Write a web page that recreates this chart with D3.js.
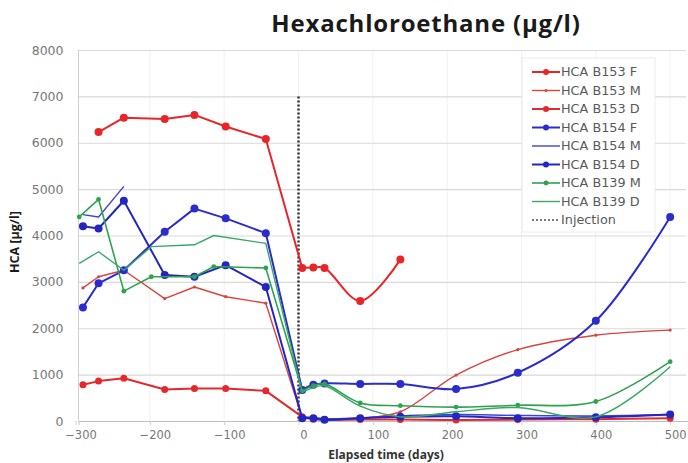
<!DOCTYPE html>
<html>
<head>
<meta charset="utf-8">
<script src="https://cdn.jsdelivr.net/npm/d3@7"></script>
<style>
  body { margin: 0; background: #fff; }
  svg { display: block; }
</style>
</head>
<body>
<svg id="chart" width="688" height="463"></svg>
<script>
// sample days (elapsed time, days relative to injection)
const days = [-295, -290, -269, -235, -198, -180, -140, -114, -98, -44, 5, 20, 35, 83, 137, 212, 295, 400, 500];

// HCA concentrations (µg/l); null = not sampled (line runs on), NaN = break in the line
const b153F = [null, null, 6230, 6540, null, 6510, 6600, null, 6350, 6080, 3300, 3310, 3300, 2590, 3480, null, null, null, null];
const b153M = [null, 2870, 3110, 3250, null, 2640, 2890, null, 2680, 2540, 60, 50, 40, 60, 200, 990, 1540, 1850, 1960];
const b153D = [null, 780, 860, 920, null, 680, 700, null, 700, 650, 90, 40, 30, 30, 30, 20, 30, 40, 60];
const b154F = [null, 2450, 2970, 3250, null, 4080, 4580, null, 4370, 4050, 670, 780, 810, 800, 800, 690, 1040, 2160, 4400];
const b154M = [null, 4450, 4400, 5060, null, NaN, null, null, null, null, 90, 80, 50, 70, 110, 140, 120, 110, 140];
const b154D = [null, 4200, 4150, 4750, null, 3150, 3110, null, 3360, 2890, 60, 60, 25, 60, 90, 100, 60, 80, 140];
const b139M = [4400, null, 4780, 2800, 3110, null, 3110, 3330, null, 3300, 650, 760, 800, 390, 330, 300, 340, 420, 1280];
const b139D = [3400, null, 3650, 3250, 3760, null, 3800, 4000, null, 3830, 620, 720, 760, 320, 90, 200, 290, 90, 1170];

const injectionDay = 0;
const injectionRange = [0, 7000];

const xTicks = [-300, -200, -100, 0, 100, 200, 300, 400, 500];
const yTicks = [0, 1000, 2000, 3000, 4000, 5000, 6000, 7000, 8000];

const series = [
  { name: 'HCA B153 F', values: b153F, color: '#e8262a', width: 2, r: 4 },
  { name: 'HCA B153 M', values: b153M, color: '#d9443f', width: 1.4, r: 1.6 },
  { name: 'HCA B153 D', values: b153D, color: '#e5282c', width: 2, r: 3.5 },
  { name: 'HCA B154 F', values: b154F, color: '#2a2ccb', width: 2, r: 4 },
  { name: 'HCA B154 M', values: b154M, color: '#3a44d6', width: 1.4, r: 0 },
  { name: 'HCA B154 D', values: b154D, color: '#2327c0', width: 2, r: 4 },
  { name: 'HCA B139 M', values: b139M, color: '#2fa24e', width: 1.6, r: 2.4 },
  { name: 'HCA B139 D', values: b139D, color: '#3aa865', width: 1.4, r: 0 }
];

const width = 688;
const height = 463;
const margin = { top: 50, right: 0, bottom: 42, left: 78.5 };
const firstPostDay = 5;

const svg = d3.select('#chart');

const xScale = d3.scaleLinear([-296, 524], [margin.left, width - margin.right]);
const yScale = d3.scaleLinear([0, 8000], [height - margin.bottom, margin.top]);

// vertical grid (very faint)
svg.append('g')
  .selectAll('line')
  .data(xTicks.filter((d) => d > -296))
  .join('line')
  .attr('x1', (d) => xScale(d))
  .attr('x2', (d) => xScale(d))
  .attr('y1', yScale(8000))
  .attr('y2', yScale(0))
  .attr('stroke', '#f1f1f1');

// horizontal grid
svg.append('g')
  .attr('transform', `translate(${margin.left},0)`)
  .call(d3.axisLeft(yScale).tickValues(yTicks).tickSize(-(width - margin.left - 2)).tickFormat(d3.format('d')))
  .call((g) => g.select('.domain').remove())
  .call((g) => g.selectAll('.tick line').attr('stroke', '#d9d9d9').attr('stroke-width', 1.2))
  .call((g) =>
    g.selectAll('.tick text')
      .attr('x', -15)
      .attr('fill', '#777')
      .attr('font-family', 'DejaVu Sans')
      .attr('font-size', 12.5)
  );

// y axis line
svg.append('line')
  .attr('x1', margin.left).attr('x2', margin.left)
  .attr('y1', yScale(8000)).attr('y2', yScale(0))
  .attr('stroke', '#d0d0d0');

// x axis
svg.append('g')
  .attr('transform', `translate(0,${yScale(0)})`)
  .call(d3.axisBottom(xScale).tickValues(xTicks).tickSize(4).tickFormat(d3.format('d')))
  .call((g) => g.select('.domain').attr('stroke', '#bfbfbf'))
  .call((g) => g.selectAll('.tick line').attr('stroke', '#d0d0d0'))
  .call((g) =>
    g.selectAll('.tick text')
      .attr('y', 10)
      .attr('dx', 5)
      .attr('fill', '#777')
      .attr('font-family', 'DejaVu Sans')
      .attr('font-size', 11.5)
  );

// injection marker
svg.append('line')
  .attr('x1', xScale(injectionDay)).attr('x2', xScale(injectionDay))
  .attr('y1', yScale(injectionRange[1])).attr('y2', yScale(injectionRange[0]))
  .attr('stroke', '#333')
  .attr('stroke-width', 2.5)
  .attr('stroke-dasharray', '2,2');

// series: straight segments up to the first post-injection sample, smoothed after
const linePre = d3.line()
  .defined((d) => !Number.isNaN(d.v))
  .x((d) => xScale(d.day))
  .y((d) => yScale(d.v));
const linePost = d3.line()
  .defined((d) => !Number.isNaN(d.v))
  .x((d) => xScale(d.day))
  .y((d) => yScale(d.v))
  .curve(d3.curveCatmullRom.alpha(0.5));

const gSeries = svg.append('g');
series.forEach((s) => {
  const pts = days.map((day, i) => ({ day, v: s.values[i] })).filter((d) => d.v !== null);
  const pre = pts.filter((d) => d.day <= firstPostDay);
  const post = pts.filter((d) => d.day >= firstPostDay);
  // a break right before the first post sample means no connecting segment
  if (pre.length > 1 && Number.isNaN(pre[pre.length - 2].v)) pre.pop();
  [[pre, linePre], [post, linePost]].forEach(([p, gen]) => {
    gSeries.append('path')
      .attr('d', gen(p))
      .attr('fill', 'none')
      .attr('stroke', s.color)
      .attr('stroke-width', s.width)
      .attr('stroke-linejoin', 'round');
  });
  if (s.r > 0) {
    gSeries.append('g')
      .selectAll('circle')
      .data(pts.filter((d) => !Number.isNaN(d.v)))
      .join('circle')
      .attr('cx', (d) => xScale(d.day))
      .attr('cy', (d) => yScale(d.v))
      .attr('r', s.r)
      .attr('fill', s.color);
  }
});

// legend
const legend = svg.append('g').attr('transform', 'translate(522,58)');
legend.append('rect')
  .attr('width', 133)
  .attr('height', 174)
  .attr('fill', '#fff')
  .attr('stroke', '#ececec');

const legendItems = series.concat([{ name: 'Injection', color: '#777', width: 2, r: 0, dash: '2,2' }]);
const rows = legend.selectAll('g.row')
  .data(legendItems)
  .join('g')
  .attr('class', 'row')
  .attr('transform', (d, i) => `translate(0,${14 + i * 18.5})`);
rows.append('line')
  .attr('x1', 10).attr('x2', 38)
  .attr('stroke', (d) => d.color)
  .attr('stroke-width', (d) => d.width)
  .attr('stroke-dasharray', (d) => d.dash ?? null);
rows.filter((d) => d.r > 0)
  .append('circle')
  .attr('cx', 24)
  .attr('r', (d) => Math.min(d.r, 3))
  .attr('fill', (d) => d.color);
rows.append('text')
  .attr('x', 39)
  .attr('dy', '0.35em')
  .attr('fill', '#595959')
  .attr('font-family', 'DejaVu Sans')
  .attr('font-size', 12.8)
  .text((d) => d.name);

// titles
svg.append('text')
  .attr('x', 426)
  .attr('y', 32)
  .attr('text-anchor', 'middle')
  .attr('font-family', 'Open Sans')
  .attr('font-weight', 'bold')
  .attr('font-size', 24)
  .attr('letter-spacing', 0.8)
  .attr('fill', '#1a1a1a')
  .text('Hexachloroethane (µg/l)');

svg.append('text')
  .attr('transform', 'translate(19,242) rotate(-90)')
  .attr('text-anchor', 'middle')
  .attr('font-family', 'Open Sans')
  .attr('font-weight', 'bold')
  .attr('font-size', 12.5)
  .attr('fill', '#1a1a1a')
  .text('HCA [µg/l]');

svg.append('text')
  .attr('x', 386)
  .attr('y', 459)
  .attr('text-anchor', 'middle')
  .attr('font-family', 'Open Sans')
  .attr('font-weight', 'bold')
  .attr('font-size', 12)
  .attr('fill', '#333')
  .text('Elapsed time (days)');
</script>
</body>
</html>
